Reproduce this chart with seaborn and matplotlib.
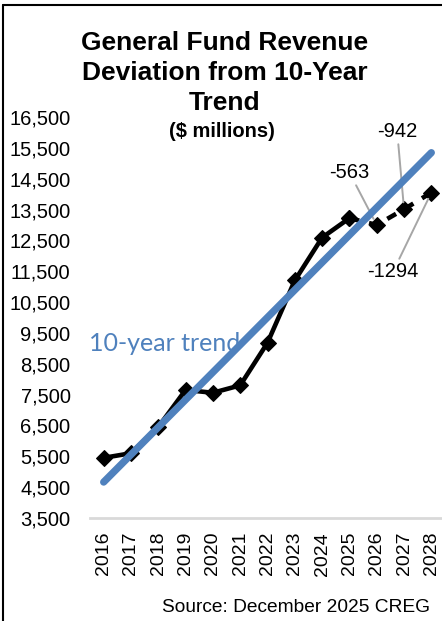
import numpy as np
import pandas as pd
import matplotlib.pyplot as plt
import seaborn as sns
from matplotlib.lines import Line2D

# data ($ millions)
years = [2016, 2017, 2018, 2019, 2020, 2021, 2022, 2023, 2024, 2025, 2026, 2027, 2028]
revenue = [5450, 5600, 6450, 7650, 7560, 7800, 9180, 11200, 12590, 13220, 13000, 13510, 14050]
n_actual = 10  # 2016-2025 solid, then forecast dashed
trend_years = [2016, 2028]
trend_vals = [4664, 15344]
dev_years = [2026, 2027, 2028]
dev_labels = ["-563", "-942", "-1294"]
dev_text_pos = [(2025.0, 14700), (2026.75, 16030), (2026.6, 11490)]
yticks = list(range(3500, 17500, 1000))

sns.set_style("white")
plt.rcParams['font.family'] = ['Liberation Sans', 'DejaVu Sans']
plt.rcParams['text.color'] = 'black'
plt.rcParams['xtick.color'] = 'black'
plt.rcParams['ytick.color'] = 'black'

df = pd.DataFrame({"year": years, "revenue": revenue})
actual = df.iloc[:n_actual]
forecast = df.iloc[n_actual - 1:]
trend = pd.DataFrame({"year": trend_years, "value": trend_vals})

fig = plt.figure(figsize=(4.42, 6.21), dpi=100)
ax = fig.add_axes([90 / 442, 1 - 518 / 621, 355 / 442, 401 / 621])

sns.lineplot(data=actual, x="year", y="revenue", ax=ax, color="black", lw=3.3,
             marker="D", markersize=8, markeredgecolor="black", zorder=3)
sns.lineplot(data=forecast, x="year", y="revenue", ax=ax, color="black", lw=3.3,
             linestyle=(0, (2.2, 2.2)), marker="D", markersize=8,
             markeredgecolor="black", zorder=3)
sns.lineplot(data=trend, x="year", y="value", ax=ax, color="#4F81BD", lw=5.2,
             solid_capstyle="round", zorder=4)

ax.set_xlim(2015.5, 2028.5)
ax.set_ylim(3500, 16500)
ax.set_yticks(yticks)
ax.set_yticklabels([f"{v:,}" for v in yticks])
ax.set_xticks(years)
ax.set_xticklabels([str(y) for y in years], rotation=90)
ax.set_xticks([y + 0.5 for y in [2015] + years], minor=True)
ax.tick_params(axis="y", length=0, pad=14, labelsize=14.5)
ax.tick_params(axis="x", which="major", length=0, pad=10, labelsize=14)
ax.tick_params(axis="x", which="minor", length=5, width=1.5, color="#D9D9D9", direction="out")
ax.set_xlabel("")
ax.set_ylabel("")
for s in ["left", "right", "top"]:
    ax.spines[s].set_visible(False)
ax.spines["bottom"].set_color("#D9D9D9")
ax.spines["bottom"].set_linewidth(2)
ax.set_clip_on(False)

for yr, lab, pos in zip(dev_years, dev_labels, dev_text_pos):
    val = revenue[years.index(yr)]
    ax.annotate(lab, xy=(yr, val), xytext=pos, ha="center", va="center",
                fontsize=14.5, color="black", annotation_clip=False,
                arrowprops=dict(arrowstyle="-", color="#A6A6A6", lw=1.4,
                                shrinkA=0, shrinkB=5))

ax.text(2015.45, 9150, "10-year trend", color="#4F81BD", fontsize=18,
        family=["Lato", "DejaVu Sans"], ha="left", va="center", zorder=5)

fig.text(225 / 442, 1 - 73 / 621, "General Fund Revenue\nDeviation from 10-Year\nTrend",
         ha="center", va="center", fontsize=19, fontweight="bold", linespacing=1.3)
fig.text(222 / 442, 1 - 131 / 621, "($ millions)", ha="center", va="center",
         fontsize=14.5, fontweight="bold")
fig.text(296 / 442, 1 - 608 / 621, "Source: December 2025 CREG", ha="center",
         va="center", fontsize=13.8)

fig.add_artist(Line2D([3 / 442, 3 / 442], [0, 1 - 5 / 621], color="black", lw=1.5,
                      transform=fig.transFigure))
fig.add_artist(Line2D([3 / 442, 1], [1 - 5 / 621, 1 - 5 / 621], color="black", lw=1.5,
                      transform=fig.transFigure))

fig.savefig("out.png", dpi=100)
